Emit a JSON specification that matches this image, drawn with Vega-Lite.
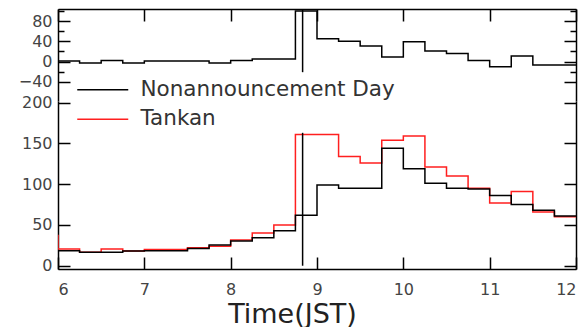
{
  "$schema": "https://vega.github.io/schema/vega-lite/v6.json",
  "padding": {"left": 18, "top": 8, "right": 10, "bottom": 0},
  "spacing": 0,
  "bounds": "flush",
  "config": {
    "view": {"stroke": null},
    "font": "DejaVu Sans",
    "axis": {
      "grid": false,
      "domainColor": "black",
      "domainWidth": 1.5,
      "tickColor": "black",
      "tickWidth": 1.5,
      "labelColor": "#444",
      "labelFont": "DejaVu Sans",
      "labelFontSize": 16
    },
    "legend": {
      "labelFont": "DejaVu Sans",
      "labelFontSize": 21.5,
      "labelColor": "#333",
      "labelLimit": 0,
      "padding": 0
    }
  },
  "datasets": {
    "diff": [
      {"t": 6.0, "v": 1}, {"t": 6.25, "v": -3}, {"t": 6.5, "v": 2}, {"t": 6.75, "v": -3},
      {"t": 7.0, "v": 1}, {"t": 7.25, "v": 1}, {"t": 7.5, "v": 1}, {"t": 7.75, "v": -3},
      {"t": 8.0, "v": 2}, {"t": 8.25, "v": 5}, {"t": 8.5, "v": 5}, {"t": 8.75, "v": 100},
      {"t": 9.0, "v": 45}, {"t": 9.25, "v": 40}, {"t": 9.5, "v": 31}, {"t": 9.75, "v": 9},
      {"t": 10.0, "v": 39}, {"t": 10.25, "v": 21}, {"t": 10.5, "v": 16}, {"t": 10.75, "v": 2},
      {"t": 11.0, "v": -10}, {"t": 11.25, "v": 11}, {"t": 11.5, "v": -7}, {"t": 11.75, "v": -7},
      {"t": 12.0, "v": -7}
    ],
    "volume": [
      {"series": "Tankan", "t": 5.75, "v": 37},
      {"series": "Tankan", "t": 6.0, "v": 20.5},
      {"series": "Tankan", "t": 6.25, "v": 16.4},
      {"series": "Tankan", "t": 6.5, "v": 20.5},
      {"series": "Tankan", "t": 6.75, "v": 18},
      {"series": "Tankan", "t": 7.0, "v": 20},
      {"series": "Tankan", "t": 7.25, "v": 20},
      {"series": "Tankan", "t": 7.5, "v": 22},
      {"series": "Tankan", "t": 7.75, "v": 23.8},
      {"series": "Tankan", "t": 8.0, "v": 31.6},
      {"series": "Tankan", "t": 8.25, "v": 40},
      {"series": "Tankan", "t": 8.5, "v": 50},
      {"series": "Tankan", "t": 8.75, "v": 161},
      {"series": "Tankan", "t": 9.0, "v": 161},
      {"series": "Tankan", "t": 9.25, "v": 134},
      {"series": "Tankan", "t": 9.5, "v": 126},
      {"series": "Tankan", "t": 9.75, "v": 154},
      {"series": "Tankan", "t": 10.0, "v": 159},
      {"series": "Tankan", "t": 10.25, "v": 121},
      {"series": "Tankan", "t": 10.5, "v": 110},
      {"series": "Tankan", "t": 10.75, "v": 95},
      {"series": "Tankan", "t": 11.0, "v": 77},
      {"series": "Tankan", "t": 11.25, "v": 91},
      {"series": "Tankan", "t": 11.5, "v": 66},
      {"series": "Tankan", "t": 11.75, "v": 60},
      {"series": "Tankan", "t": 12.0, "v": 60},
      {"series": "Nonannouncement Day", "t": 6.0, "v": 18.4},
      {"series": "Nonannouncement Day", "t": 6.25, "v": 16.4},
      {"series": "Nonannouncement Day", "t": 6.5, "v": 16.4},
      {"series": "Nonannouncement Day", "t": 6.75, "v": 18},
      {"series": "Nonannouncement Day", "t": 7.0, "v": 18.4},
      {"series": "Nonannouncement Day", "t": 7.25, "v": 18.4},
      {"series": "Nonannouncement Day", "t": 7.5, "v": 21},
      {"series": "Nonannouncement Day", "t": 7.75, "v": 25.4},
      {"series": "Nonannouncement Day", "t": 8.0, "v": 30.3},
      {"series": "Nonannouncement Day", "t": 8.25, "v": 34.4},
      {"series": "Nonannouncement Day", "t": 8.5, "v": 43},
      {"series": "Nonannouncement Day", "t": 8.75, "v": 62},
      {"series": "Nonannouncement Day", "t": 9.0, "v": 99},
      {"series": "Nonannouncement Day", "t": 9.25, "v": 95},
      {"series": "Nonannouncement Day", "t": 9.5, "v": 95},
      {"series": "Nonannouncement Day", "t": 9.75, "v": 144},
      {"series": "Nonannouncement Day", "t": 10.0, "v": 119},
      {"series": "Nonannouncement Day", "t": 10.25, "v": 101},
      {"series": "Nonannouncement Day", "t": 10.5, "v": 95},
      {"series": "Nonannouncement Day", "t": 10.75, "v": 94},
      {"series": "Nonannouncement Day", "t": 11.0, "v": 86},
      {"series": "Nonannouncement Day", "t": 11.25, "v": 75},
      {"series": "Nonannouncement Day", "t": 11.5, "v": 68},
      {"series": "Nonannouncement Day", "t": 11.75, "v": 61},
      {"series": "Nonannouncement Day", "t": 12.0, "v": 61}
    ],
    "announcement": [
      {"panel": "diff", "t": 8.8333, "lo": -21, "hi": 104},
      {"panel": "volume", "t": 8.8333, "lo": 0, "hi": 163}
    ]
  },
  "vconcat": [
    {
      "width": 518,
      "height": 92,
      "encoding": {
        "x": {
          "field": "t", "type": "quantitative",
          "scale": {"domain": [6, 12], "nice": false, "zero": false},
          "axis": {"orient": "top", "values": [6, 7, 8, 9, 10, 11, 12], "labels": false, "tickSize": -12, "title": null}
        }
      },
      "layer": [
        {
          "data": {"name": "diff"},
          "mark": {"type": "line", "interpolate": "step-after", "color": "black", "strokeWidth": 1.5, "clip": true},
          "encoding": {
            "y": {
              "field": "v", "type": "quantitative",
              "scale": {"domain": [-78, 104], "nice": false, "zero": false},
              "axis": {
                "orient": "left", "title": null,
                "values": [-40, -20, 0, 20, 40, 60, 80, 100],
                "labelExpr": "datum.value % 40 === 0 ? datum.label : ''",
                "tickSize": {"condition": {"test": "datum.value % 40 === 0", "value": -12}, "value": -6},
                "labelPadding": 18
              }
            }
          }
        },
        {
          "data": {"name": "announcement"},
          "transform": [{"filter": "datum.panel === 'diff'"}],
          "mark": {"type": "rule", "color": "black", "strokeWidth": 1.5},
          "encoding": {
            "y": {
              "field": "lo", "type": "quantitative",
              "axis": {
                "orient": "right", "title": null, "labels": false,
                "values": [-40, -20, 0, 20, 40, 60, 80, 100],
                "tickSize": {"condition": {"test": "datum.value % 40 === 0", "value": -12}, "value": -6}
              }
            },
            "y2": {"field": "hi"}
          }
        }
      ],
      "resolve": {"axis": {"y": "independent"}}
    },
    {
      "width": 518,
      "height": 168,
      "encoding": {
        "x": {
          "field": "t", "type": "quantitative",
          "scale": {"domain": [6, 12], "nice": false, "zero": false},
          "axis": {
            "orient": "bottom", "values": [6, 7, 8, 9, 10, 11, 12], "tickSize": -12, "labelPadding": 24,
            "title": "Time(JST)", "titleFont": "DejaVu Sans", "titleFontSize": 27, "titleFontWeight": "normal",
            "titleColor": "#222", "titleX": 234, "titleY": 53, "titleBaseline": "alphabetic"
          }
        }
      },
      "layer": [
        {
          "data": {"name": "volume"},
          "mark": {"type": "line", "interpolate": "step-after", "strokeWidth": 1.5, "clip": true},
          "encoding": {
            "y": {
              "field": "v", "type": "quantitative",
              "scale": {"domain": [-4, 202], "nice": false, "zero": false},
              "axis": {"orient": "left", "title": null, "values": [0, 50, 100, 150, 200], "tickSize": -12, "labelPadding": 18}
            },
            "color": {
              "field": "series", "type": "nominal",
              "scale": {"domain": ["Nonannouncement Day", "Tankan"], "range": ["black", "#ff1f1f"]},
              "legend": {
                "title": null, "orient": "none", "legendX": 34, "legendY": 70,
                "symbolType": "M-3,0H3", "symbolSize": 289, "symbolStrokeWidth": 1.5,
                "labelOffset": 27, "rowPadding": 6.5
              }
            }
          }
        },
        {
          "data": {"name": "announcement"},
          "transform": [{"filter": "datum.panel === 'volume'"}],
          "mark": {"type": "rule", "color": "black", "strokeWidth": 1.5},
          "encoding": {
            "y": {
              "field": "lo", "type": "quantitative",
              "axis": {"orient": "right", "title": null, "labels": false, "values": [0, 50, 100, 150, 200], "tickSize": -12}
            },
            "y2": {"field": "hi"}
          }
        }
      ],
      "resolve": {"axis": {"y": "independent"}}
    }
  ]
}
